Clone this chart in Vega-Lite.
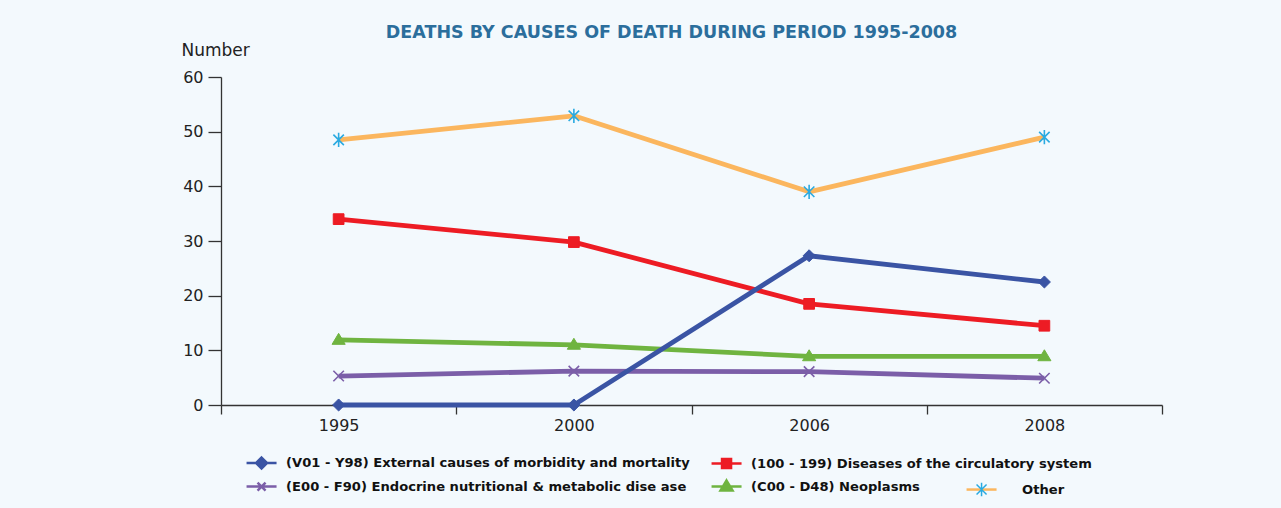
{
  "$schema": "https://vega.github.io/schema/vega-lite/v6.json",
  "autosize": {"type": "none"},
  "padding": {"left": 221, "top": 77, "right": 119, "bottom": 103},
  "width": 941,
  "height": 328,
  "background": "#f3f9fd",
  "title": {
    "text": "DEATHS BY CAUSES OF DEATH DURING PERIOD 1995-2008",
    "color": "#2b6e9c",
    "font": "DejaVu Sans",
    "fontWeight": "bold",
    "fontSize": 17.5,
    "anchor": "middle",
    "frame": "group",
    "dx": -20,
    "offset": 0
  },
  "config": {
    "view": {"stroke": null},
    "axis": {"grid": false, "domainColor": "#333333", "tickColor": "#333333", "labelColor": "#222222", "labelFont": "DejaVu Sans", "labelFontSize": 16, "titleFont": "DejaVu Sans", "titleFontWeight": "normal", "titleColor": "#222222"}
  },
  "data": {
    "values": [
      {"year": "1995", "cause": "Other", "value": 48.5},
      {"year": "2000", "cause": "Other", "value": 52.9},
      {"year": "2006", "cause": "Other", "value": 39.0},
      {"year": "2008", "cause": "Other", "value": 49.0},
      {"year": "1995", "cause": "(E00 - F90) Endocrine nutritional & metabolic dise ase", "value": 5.3},
      {"year": "2000", "cause": "(E00 - F90) Endocrine nutritional & metabolic dise ase", "value": 6.2},
      {"year": "2006", "cause": "(E00 - F90) Endocrine nutritional & metabolic dise ase", "value": 6.1},
      {"year": "2008", "cause": "(E00 - F90) Endocrine nutritional & metabolic dise ase", "value": 4.9},
      {"year": "1995", "cause": "(C00 - D48) Neoplasms", "value": 11.9},
      {"year": "2000", "cause": "(C00 - D48) Neoplasms", "value": 11.0},
      {"year": "2006", "cause": "(C00 - D48) Neoplasms", "value": 8.9},
      {"year": "2008", "cause": "(C00 - D48) Neoplasms", "value": 8.9},
      {"year": "1995", "cause": "(100 - 199) Diseases of the circulatory system", "value": 34.0},
      {"year": "2000", "cause": "(100 - 199) Diseases of the circulatory system", "value": 29.8},
      {"year": "2006", "cause": "(100 - 199) Diseases of the circulatory system", "value": 18.5},
      {"year": "2008", "cause": "(100 - 199) Diseases of the circulatory system", "value": 14.5},
      {"year": "1995", "cause": "(V01 - Y98) External causes of morbidity and mortality", "value": 0},
      {"year": "2000", "cause": "(V01 - Y98) External causes of morbidity and mortality", "value": 0},
      {"year": "2006", "cause": "(V01 - Y98) External causes of morbidity and mortality", "value": 27.3},
      {"year": "2008", "cause": "(V01 - Y98) External causes of morbidity and mortality", "value": 22.5}
    ]
  },
  "encoding": {
    "x": {
      "field": "year", "type": "ordinal",
      "scale": {"type": "band", "paddingInner": 0, "paddingOuter": 0},
      "axis": {"title": null, "labelAngle": 0, "tickBand": "extent", "tickSize": 9, "domainWidth": 1.3, "tickWidth": 1.3, "labelPadding": 3}
    },
    "y": {
      "field": "value", "type": "quantitative",
      "scale": {"domain": [0, 60], "nice": false},
      "axis": {"title": "Number", "titleAngle": 0, "titleAlign": "left", "titleBaseline": "alphabetic", "titleX": -40, "titleY": -22, "titleFontSize": 17, "values": [0, 10, 20, 30, 40, 50, 60], "tickSize": 13, "labelPadding": 5, "domainWidth": 1.3, "tickWidth": 1.3}
    }
  },
  "layer": [
    {
      "transform": [{"filter": "datum.cause === 'Other'"}],
      "mark": {"type": "line", "strokeWidth": 4.8, "strokeJoin": "round"},
      "encoding": {
        "stroke": {
          "field": "cause", "type": "nominal",
          "scale": {"domain": ["Other"], "range": ["#fbb65e"]},
          "legend": {
            "title": null,
            "orient": "none",
            "legendX": 754,
            "legendY": 406,
            "labelFont": "DejaVu Sans",
            "labelFontWeight": "bold",
            "labelFontSize": 13.1,
            "labelColor": "#111111",
            "labelOffset": 34,
            "symbolSize": 100,
            "encode": {
              "symbols": {
                "update": {
                  "shape": {"value": "M-3,0H3"},
                  "size": {"value": 100},
                  "fill": {"value": "transparent"},
                  "stroke": {"value": "#fbb65e"},
                  "strokeWidth": {"value": 2.5},
                  "opacity": {"value": 1}
                }
              }
            }
          }
        }
      }
    },
    {
      "transform": [{"filter": "datum.cause !== 'Other'"}],
      "mark": {"type": "line", "strokeWidth": 4.8, "strokeJoin": "round"},
      "encoding": {
        "color": {
          "field": "cause", "type": "nominal",
          "scale": {
            "domain": ["(V01 - Y98) External causes of morbidity and mortality", "(100 - 199) Diseases of the circulatory system", "(E00 - F90) Endocrine nutritional & metabolic dise ase", "(C00 - D48) Neoplasms"],
            "range": ["#3a54a4", "#ed1c24", "#7b5ea8", "#6fb440"]
          },
          "legend": {
            "title": null,
            "orient": "none",
            "legendX": 24,
            "legendY": 379,
            "direction": "horizontal",
            "columns": 2,
            "columnPadding": 16,
            "rowPadding": 1,
            "labelFont": "DejaVu Sans",
            "labelFontWeight": "bold",
            "labelFontSize": 13.1,
            "labelColor": "#111111",
            "labelOffset": 28,
            "labelLimit": 600,
            "symbolSize": 100,
            "encode": {
              "symbols": {
                "update": {
                  "shape": {"signal": "['M-1,0H5M2,-1.1L3.1,0L2,1.1L0.9,0Z','M-1,0H5M1.1,-0.9H2.9V0.9H1.1Z','M-1,0H5M1.2,-0.8L2.8,0.8M1.2,0.8L2.8,-0.8','M-1,0H5M2,-1.2L3.2,0.8H0.8Z'][indexof(domain('color'), datum.value)]"},
                  "size": {"value": 100},
                  "fill": {"scale": "color", "field": "value"},
                  "stroke": {"scale": "color", "field": "value"},
                  "strokeWidth": {"value": 2.5},
                  "opacity": {"value": 1}
                }
              }
            }
          }
        }
      }
    },
    {
      "transform": [{"filter": "datum.cause === '(V01 - Y98) External causes of morbidity and mortality'"}],
      "mark": {"type": "point", "shape": "M0,-1.1L1.1,0L0,1.1L-1.1,0Z", "filled": true, "opacity": 1, "size": 120, "fill": "#3a54a4", "stroke": "#3a54a4", "strokeWidth": 1}
    },
    {
      "transform": [{"filter": "datum.cause === '(100 - 199) Diseases of the circulatory system'"}],
      "mark": {"type": "point", "shape": "M-1,-1H1V1H-1Z", "filled": true, "opacity": 1, "size": 115, "fill": "#ed1c24", "stroke": "#ed1c24", "strokeWidth": 1}
    },
    {
      "transform": [{"filter": "datum.cause === '(E00 - F90) Endocrine nutritional & metabolic dise ase'"}],
      "mark": {"type": "point", "shape": "M-1,-1L1,1M-1,1L1,-1", "filled": false, "opacity": 1, "size": 110, "stroke": "#7b5ea8", "strokeWidth": 1.6}
    },
    {
      "transform": [{"filter": "datum.cause === '(C00 - D48) Neoplasms'"}],
      "mark": {"type": "point", "shape": "M0,-1.2L1.2,0.8H-1.2Z", "filled": true, "opacity": 1, "size": 120, "fill": "#6fb440", "stroke": "#6fb440", "strokeWidth": 1}
    },
    {
      "transform": [{"filter": "datum.cause === 'Other'"}],
      "mark": {"type": "point", "shape": "M-1,-1L1,1M-1,1L1,-1M0,-1.35V1.35", "filled": false, "opacity": 1, "size": 110, "stroke": "#29aae1", "strokeWidth": 1.6},
      "encoding": {
        "fill": {
          "field": "year", "type": "nominal",
          "scale": {"domain": ["1995", "2000", "2006", "2008"], "range": ["transparent", "transparent", "transparent", "transparent"]},
          "legend": {
            "title": null,
            "orient": "none",
            "legendX": 754,
            "legendY": 406,
            "values": ["1995"],
            "labelExpr": "''",
            "labelFontSize": 13.1,
            "labelColor": "transparent",
            "labelOffset": 34,
            "symbolSize": 100,
            "symbolStrokeColor": "#29aae1",
            "symbolStrokeWidth": 1.5
          }
        }
      }
    }
  ]
}
